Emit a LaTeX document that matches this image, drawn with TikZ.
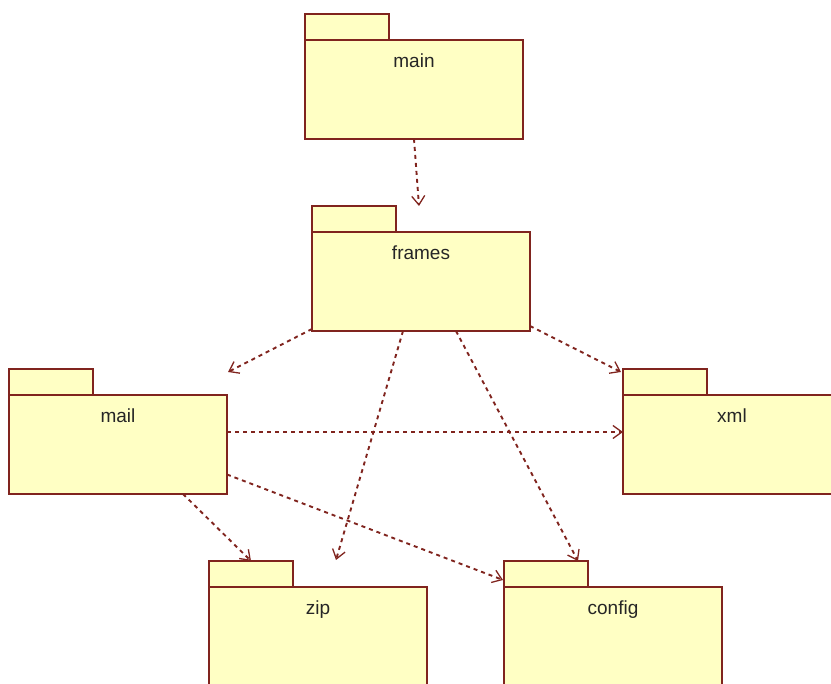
\documentclass[tikz,border=0pt]{standalone}
\usepackage{fontspec}
\setmainfont{Liberation Sans}
\usetikzlibrary{arrows.meta}
\definecolor{pkgfill}{RGB}{255,255,196}
\definecolor{pkgline}{RGB}{128,36,30}
\begin{document}
\begin{tikzpicture}[x=1pt,y=-1pt,
        pkgbody/.style={draw=pkgline,fill=pkgfill,line width=1.6pt,minimum width=218pt,minimum height=99pt,anchor=north west,inner sep=0pt,outer sep=0pt},
        pkgtab/.style={draw=pkgline,fill=pkgfill,line width=1.6pt,minimum width=84pt,minimum height=26pt,anchor=south west,inner sep=0pt,outer sep=0pt},
        pkgname/.style={anchor=base,font=\fontsize{19}{22}\selectfont,text=black!85},
        depend/.style={draw=pkgline,line width=1.9pt,dash pattern=on 4pt off 4pt,-{Straight Barb[length=9pt,width=13pt,line width=1.3pt]}}]
        \useasboundingbox (0,0) rectangle (831,684);
        \clip (0,0) rectangle (831,684);
        %% packages top
        \node[pkgbody] (main) at (305,40) {};
        \node[pkgtab] (maintab) at (main.north west) {};
        \node[pkgname] (mainname) at ([yshift=-28pt]main.north) {main};
        \node[pkgbody] (frames) at (312,232) {};
        \node[pkgtab] (framestab) at (frames.north west) {};
        \node[pkgname] (framesname) at ([yshift=-28pt]frames.north) {frames};
        %% packages middle
        \node[pkgbody] (mail) at (9,395) {};
        \node[pkgtab] (mailtab) at (mail.north west) {};
        \node[pkgname] (mailname) at ([yshift=-28pt]mail.north) {mail};
        \node[pkgbody] (xml) at (623,395) {};
        \node[pkgtab] (xmltab) at (xml.north west) {};
        \node[pkgname] (xmlname) at ([yshift=-28pt]xml.north) {xml};
        %% packages bottom
        \node[pkgbody] (zip) at (209,587) {};
        \node[pkgtab] (ziptab) at (zip.north west) {};
        \node[pkgname] (zipname) at ([yshift=-28pt]zip.north) {zip};
        \node[pkgbody] (config) at (504,587) {};
        \node[pkgtab] (configtab) at (config.north west) {};
        \node[pkgname] (configname) at ([yshift=-28pt]config.north) {config};
        %% dependencies of main and frames
        \draw[depend] (main.south) -- ([xshift=-2pt,yshift=26pt]frames.north);
        \draw[depend] ([yshift=2pt]frames.south west) -- ([xshift=1pt,yshift=23pt]mail.north east);
        \draw[depend] ([xshift=-18pt]frames.south) -- ([xshift=18pt,yshift=27pt]zip.north);
        \draw[depend] ([xshift=35pt]frames.south) -- ([xshift=-10pt]configtab.north east);
        \draw[depend] ([yshift=5pt]frames.south east) -- ([xshift=-2pt,yshift=-3pt]xmltab.north west);
        %% dependencies of mail
        \draw[depend] ([yshift=12.5pt]mail.east) -- ([yshift=12.5pt]xml.west);
        \draw[depend] ([xshift=-44pt]mail.south east) -- (ziptab.north);
        \draw[depend] ([yshift=-30pt]mail.east) -- ([xshift=-1pt,yshift=7pt]configtab.south west);
\end{tikzpicture}
\end{document}
